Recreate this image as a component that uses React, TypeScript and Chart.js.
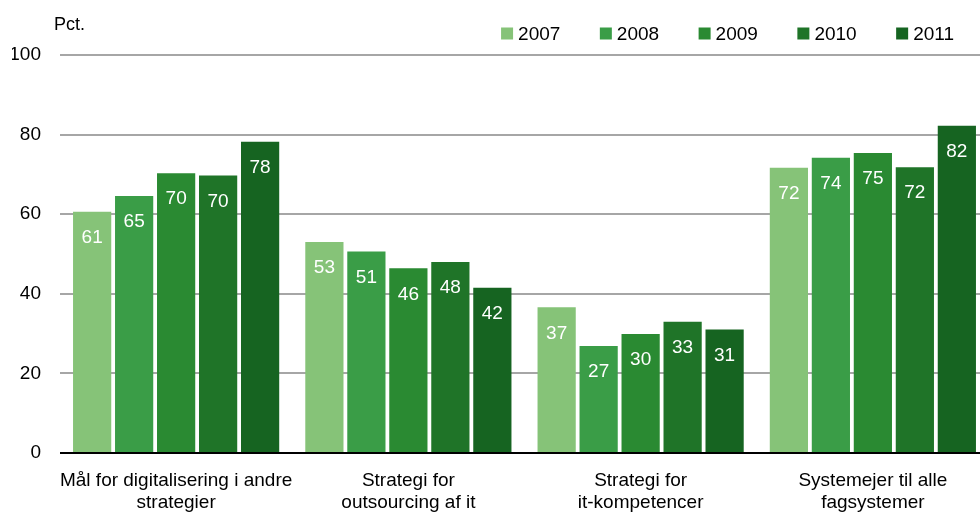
import React, { useEffect, useRef } from "react";
import { Chart, registerables } from "chart.js";

Chart.register(...registerables);

const categories: string[][] = [
  ["Mål for digitalisering i andre", "strategier"],
  ["Strategi for", "outsourcing af it"],
  ["Strategi for", "it-kompetencer"],
  ["Systemejer til alle", "fagsystemer"],
];
const years = ["2007", "2008", "2009", "2010", "2011"];
const values2007 = [60.6, 53.0, 36.6, 71.7];
const values2008 = [64.6, 50.6, 26.9, 74.2];
const values2009 = [70.3, 46.4, 29.9, 75.4];
const values2010 = [69.7, 48.0, 33.0, 71.8];
const values2011 = [78.2, 41.5, 31.0, 82.2];
const yTicks = [0, 20, 40, 60, 80, 100];
const unitLabel = "Pct.";

const colors = ["#86c378", "#3a9d47", "#2a8a32", "#1f7428", "#166421"];
const FONT = "'Liberation Sans', Arial, sans-serif";

const labelPlugin = {
  id: "customLabels",
  afterDatasetsDraw(chart: any) {
    const ctx = chart.ctx;
    ctx.save();
    ctx.font = `19px ${FONT}`;
    ctx.fillStyle = "#ffffff";
    ctx.textAlign = "center";
    ctx.textBaseline = "middle";
    chart.data.datasets.forEach((ds: any, i: number) => {
      const meta = chart.getDatasetMeta(i);
      meta.data.forEach((bar: any, j: number) => {
        const v = ds.data[j];
        ctx.fillText(String(Math.round(v)), bar.x, bar.y + 26);
      });
    });
    ctx.restore();
  },
  afterDraw(chart: any) {
    const ctx = chart.ctx;
    const area = chart.chartArea;
    ctx.save();
    ctx.font = `18px ${FONT}`;
    ctx.fillStyle = "#000";
    ctx.textAlign = "left";
    ctx.textBaseline = "alphabetic";
    ctx.fillText(unitLabel, area.left - 6, area.top - 25);
    // legend
    ctx.font = `19px ${FONT}`;
    ctx.textBaseline = "middle";
    const box = 12;
    const gapText = 5;
    const spacing = 39.5;
    const items = chart.data.datasets.map((ds: any) => ({
      label: ds.label,
      color: ds.backgroundColor,
      w: box + gapText + ctx.measureText(ds.label).width,
    }));
    const total = items.reduce((s: number, it: any) => s + it.w, 0) + spacing * (items.length - 1);
    let x = 954 - total;
    const y = 33.5;
    items.forEach((it: any) => {
      ctx.fillStyle = it.color;
      ctx.fillRect(x, y - box / 2, box, box);
      ctx.fillStyle = "#000";
      ctx.fillText(it.label, x + box + gapText, y + 1);
      x += it.w + spacing;
    });
    ctx.restore();
  },
};

export default function App() {
  const ref = useRef<HTMLCanvasElement | null>(null);
  useEffect(() => {
    if (!ref.current) return;
    const series = [values2007, values2008, values2009, values2010, values2011];
    const chart = new Chart(ref.current, {
      type: "bar",
      data: {
        labels: categories,
        datasets: years.map((y, i) => ({
          label: y,
          data: series[i],
          backgroundColor: colors[i],
          borderWidth: 0,
          categoryPercentage: 0.904,
          barPercentage: 0.91,
        })),
      },
      options: {
        responsive: false,
        animation: false,
        devicePixelRatio: 1,
        layout: { padding: { top: 55, left: 12, right: 1, bottom: 3 } },
        plugins: {
          legend: { display: false },
          tooltip: { enabled: false },
        },
        scales: {
          x: {
            grid: { display: false },
            border: { display: false },
            afterFit: (axis: any) => {
              axis.height = 61;
            },
            ticks: {
              color: "#000",
              font: { family: FONT, size: 19, lineHeight: 1.16 },
              padding: 9,
              maxRotation: 0,
              autoSkip: false,
            },
          },
          y: {
            min: 0,
            max: 100,
            afterBuildTicks: (axis: any) => {
              axis.ticks = yTicks.map((v) => ({ value: v }));
            },
            afterFit: (axis: any) => {
              axis.width = 48;
            },
            border: { display: false },
            grid: {
              drawTicks: false,
              color: (c: any) => (c.tick && c.tick.value === 0 ? "#000000" : "#a6a6a6"),
              lineWidth: 2,
            },
            ticks: {
              color: "#000",
              font: { family: FONT, size: 19 },
              padding: 19,
            },
          },
        },
      },
      plugins: [labelPlugin],
    });
    return () => chart.destroy();
  }, []);
  return (
    <div
      style={{
        position: "fixed",
        left: 0,
        top: 0,
        width: 980,
        height: 517,
        overflow: "hidden",
        background: "#fff",
      }}
    >
      <canvas ref={ref} width={990} height={517} style={{ display: "block" }} />
    </div>
  );
}
